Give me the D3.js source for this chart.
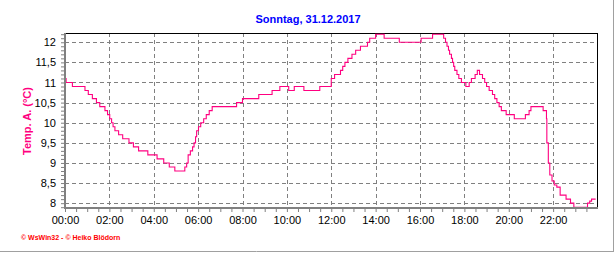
<!DOCTYPE html>
<html lang="de">
<head>
<meta charset="UTF-8">
<script src="https://d3js.org/d3.v7.min.js"></script>
<title>Temp. A. 31.12.2017</title>
<style>
  body { margin: 0; background: #fff; }
  svg { display: block; font-family: "Liberation Sans", Arial, sans-serif; }
</style>
</head>
<body>
<div id="canvas"></div>
<script>
// Messwerte (Zeitpunkt der Aenderung, Temperatur)
const times = ["00:00","00:03","00:20","00:54","01:03","01:14","01:25","01:34","01:48","01:55",
  "02:01","02:06","02:10","02:15","02:25","02:36","02:53","03:05","03:19","03:44",
  "04:09","04:27","04:42","04:57","05:24","05:29","05:33","05:39","05:45","05:49",
  "05:53","05:56","06:01","06:07","06:15","06:22","06:30","06:38","07:44","08:00",
  "08:44","09:20","09:41","10:05","10:20","10:46","11:29","12:00","12:09","12:25",
  "12:31","12:37","12:45","12:56","13:06","13:19","13:38","13:44","14:00","14:23",
  "15:04","16:03","16:34","17:04","17:09","17:13","17:17","17:20","17:25","17:28",
  "17:31","17:34","17:40","17:45","17:52","18:04","18:13","18:19","18:29","18:35",
  "18:41","18:49","18:55","19:00","19:07","19:16","19:22","19:28","19:34","19:40",
  "19:53","20:15","20:45","20:55","21:00","21:33","21:42","21:43","21:47","21:51",
  "21:57","22:03","22:10","22:19","22:35","22:47","22:56","23:33","23:39","23:44","23:55"]
const temps = [11.1,11.0,10.9,10.8,10.7,10.6,10.5,10.4,10.3,10.2,
  10.1,10.0,9.9,9.8,9.7,9.6,9.5,9.4,9.3,9.2,
  9.1,9.0,8.9,8.8,8.9,9.0,9.2,9.3,9.4,9.5,
  9.65,9.8,9.9,10.0,10.1,10.2,10.3,10.4,10.5,10.6,
  10.7,10.8,10.9,10.8,10.9,10.8,10.9,11.1,11.2,11.3,
  11.4,11.5,11.6,11.7,11.8,11.9,12.0,12.1,12.2,12.1,
  12.0,12.1,12.2,12.1,12.0,11.9,11.8,11.7,11.6,11.5,
  11.4,11.3,11.2,11.1,11.0,10.9,11.0,11.1,11.2,11.3,
  11.2,11.1,11.0,10.9,10.8,10.7,10.6,10.5,10.4,10.3,
  10.2,10.1,10.2,10.3,10.4,10.3,10.1,9.5,9.0,8.7,
  8.55,8.45,8.4,8.2,8.1,8.0,7.9,8.0,8.05,8.1,8.1]

const yTicks = [8, 8.5, 9, 9.5, 10, 10.5, 11, 11.5, 12]
const xTickLabels = ["00:00","02:00","04:00","06:00","08:00","10:00","12:00","14:00","16:00","18:00","20:00","22:00"]

const title = "Sonntag, 31.12.2017"
const yTitle = "Temp. A. (°C)"
const footer = "© WsWin32 - © Heiko Blödorn"

function toHours(s){
  const p = s.split(":")
  return +p[0] + p[1]/60
}
const data = times.map((t,i) => ({h: toHours(t), v: temps[i]}))

const W = 616, H = 253
const pLeft = 65, pRight = 597.5, pTop = 33, pBottom = 208

const svg = d3.select("#canvas").append("svg").attr("width",W).attr("height",H)

const x = d3.scaleLinear().domain([0,24]).range([pLeft,pRight])
const y = d3.scaleLinear().domain([7.88,12.23]).range([pBottom,pTop])

// grid
svg.append("g").selectAll("line").data(yTicks).enter().append("line")
  .attr("x1",pLeft).attr("x2",pRight)
  .attr("y1",d => Math.round(y(d))+0.5).attr("y2",d => Math.round(y(d))+0.5)
  .attr("stroke","#808080").attr("stroke-dasharray","4,3")
svg.append("g").selectAll("line").data(xTickLabels.slice(1)).enter().append("line")
  .attr("x1",d => Math.round(x(toHours(d)))+0.5).attr("x2",d => Math.round(x(toHours(d)))+0.5)
  .attr("y1",pTop).attr("y2",pBottom)
  .attr("stroke","#808080").attr("stroke-dasharray","4,3")

// frame top / right
svg.append("line").attr("x1",pLeft).attr("x2",pRight).attr("y1",pTop+0.5).attr("y2",pTop+0.5).attr("stroke","#000")
svg.append("line").attr("x1",pRight).attr("x2",pRight).attr("y1",pTop).attr("y2",pBottom).attr("stroke","#000")

// temperature line
const line = d3.line().x(d => x(d.h)).y(d => y(d.v)).curve(d3.curveStepAfter)
svg.append("path").datum(data).attr("d",line)
  .attr("fill","none").attr("stroke","#ff0080").attr("stroke-width",1.1)

// left axis
const minorY = d3.range(79,123).map(d => d/10)
svg.append("g").attr("transform",`translate(${pLeft-1},0)`)
  .call(d3.axisLeft(y).tickValues(minorY).tickSize(3).tickFormat(""))
  .call(g => g.select(".domain").remove())
  .selectAll("line").attr("stroke","#808080")
svg.append("g").attr("transform",`translate(${pLeft-1},0)`)
  .call(d3.axisLeft(y).tickValues(yTicks).tickSize(0).tickPadding(8)
    .tickFormat(d => String(d).replace(".",",")))
  .call(g => g.select(".domain").remove())
  .selectAll("text").attr("font-size",11).attr("font-family","Liberation Sans, Arial, sans-serif").attr("fill","#000")
svg.append("line").attr("x1",pLeft).attr("x2",pLeft).attr("y1",pTop).attr("y2",pBottom+1)
  .attr("stroke","#808080").attr("stroke-width",2)

// bottom axis
const minorX = d3.range(0,48).map(d => d/2)
svg.append("g").attr("transform",`translate(0,${pBottom+1})`)
  .call(d3.axisBottom(x).tickValues(minorX).tickSize(3).tickFormat(""))
  .call(g => g.select(".domain").remove())
  .selectAll("line").attr("stroke","#808080")
svg.append("g").attr("transform",`translate(0,${pBottom})`)
  .call(d3.axisBottom(x).tickValues(xTickLabels.map(toHours)).tickSize(0).tickPadding(8)
    .tickFormat((d,i) => xTickLabels[i]))
  .call(g => g.select(".domain").remove())
  .selectAll("text").attr("font-size",11).attr("font-family","Liberation Sans, Arial, sans-serif").attr("fill","#000")
svg.append("line").attr("x1",pLeft-1).attr("x2",pRight+0.5).attr("y1",pBottom).attr("y2",pBottom)
  .attr("stroke","#808080").attr("stroke-width",2)

// titles
svg.append("text").attr("x",W/2).attr("y",23).attr("text-anchor","middle")
  .attr("font-size",11).attr("font-weight","bold").attr("fill","#0000ff").text(title)
svg.append("text").attr("transform","translate(31,121) rotate(-90)").attr("text-anchor","middle")
  .attr("font-size",11).attr("font-weight","bold").attr("fill","#ff0080").text(yTitle)
svg.append("text").attr("x",21).attr("y",240)
  .attr("font-size",7).attr("font-weight","bold").attr("fill","#ff0000").text(footer)

// outer frame right / bottom
svg.append("line").attr("x1",613.5).attr("x2",613.5).attr("y1",0).attr("y2",252).attr("stroke","#a0a0a0")
svg.append("line").attr("x1",0).attr("x2",614).attr("y1",251.5).attr("y2",251.5).attr("stroke","#a0a0a0")
</script>
</body>
</html>
